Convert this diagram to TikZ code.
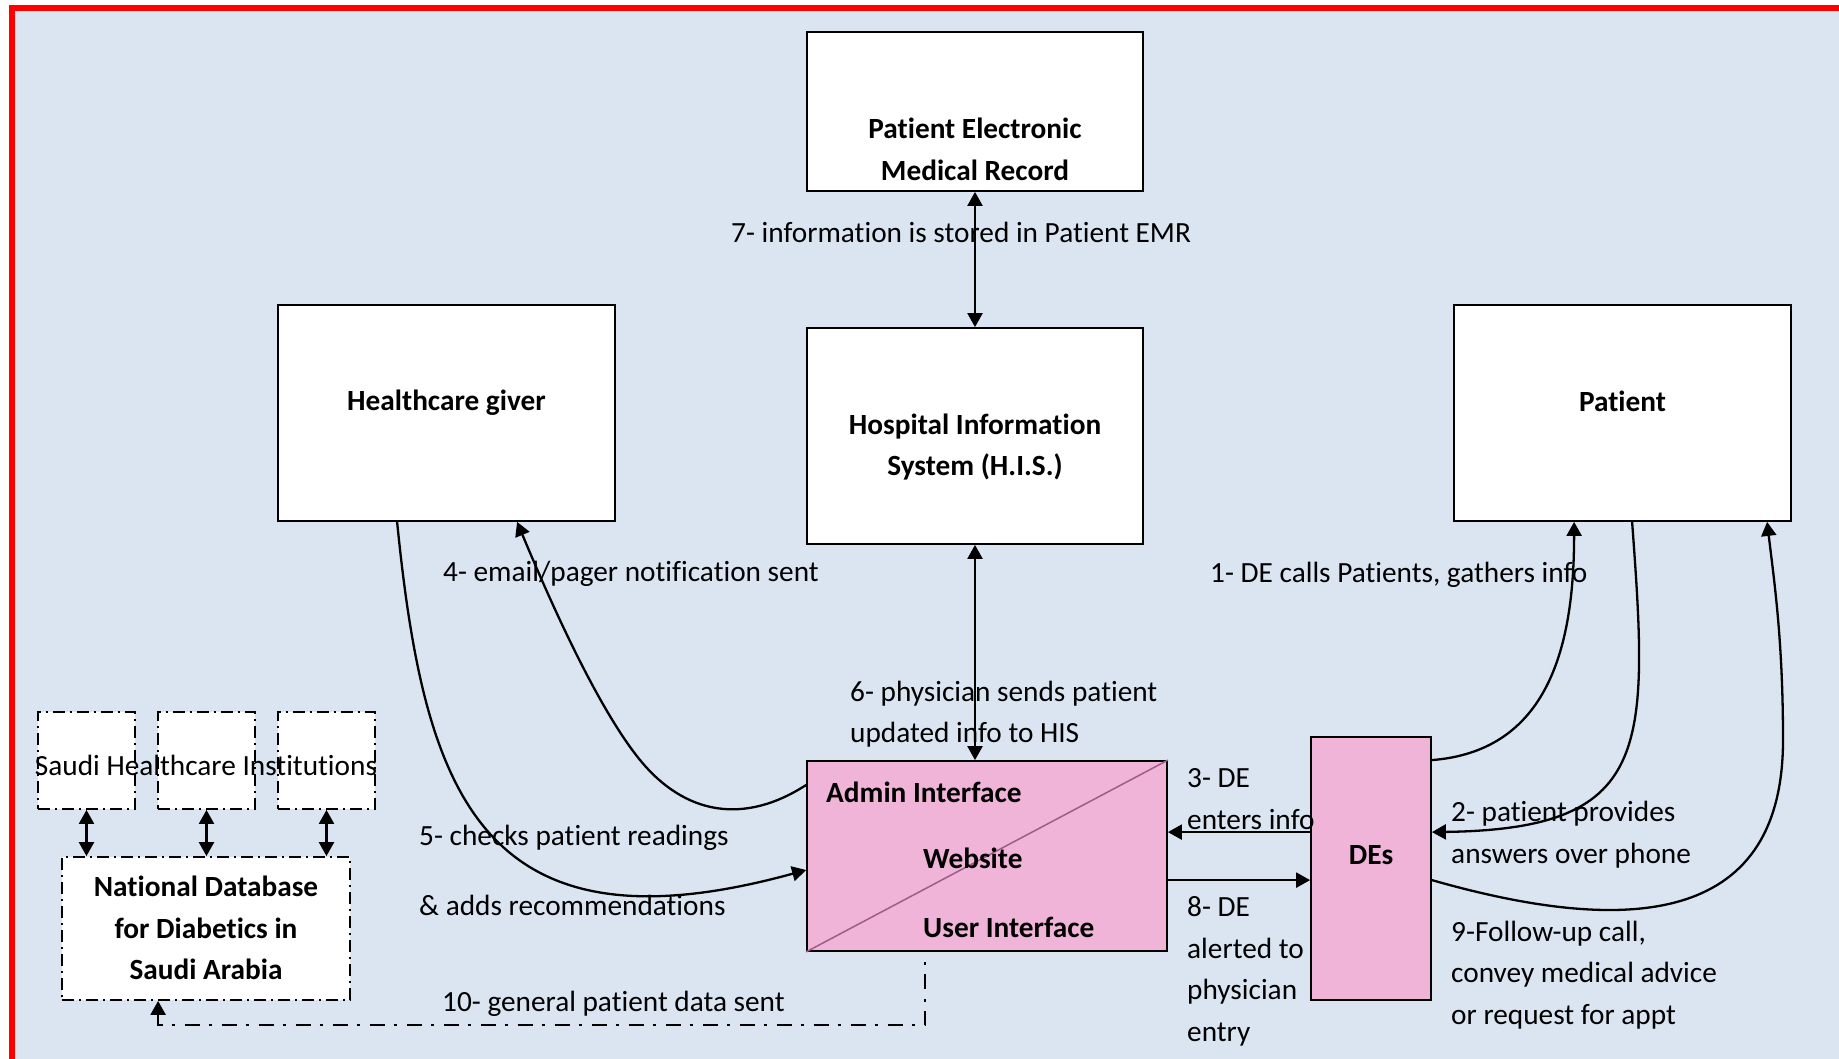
\documentclass[tikz,border=0pt]{standalone}
\usepackage{fontspec}
\setmainfont{Carlito}[Ligatures=NoCommon]
\usetikzlibrary{arrows.meta,calc}
\definecolor{bgblue}{HTML}{DBE5F1}
\definecolor{pinkfill}{HTML}{F0B4D8}
\definecolor{diagline}{HTML}{A05C88}
\newcommand\dfont{\fontsize{29.3}{41.5}\selectfont}
\begin{document}
\begin{tikzpicture}[x=1pt,y=-1pt,
  box/.style={draw=black,line width=1.8pt,fill=white,inner sep=0pt},
  pinkbox/.style={box,fill=pinkfill},
  dbox/.style={box,dash pattern=on 12pt off 5pt on 2pt off 5pt,line width=1.8pt},
  btxt/.style={inner sep=0pt,align=center,font=\dfont\bfseries},
  lab/.style={inner sep=0pt,align=left,anchor=west,font=\dfont},
  tip/.tip={Triangle[length=14pt,width=15pt]},
  conn/.style={line width=2.3pt,-tip},
  both/.style={line width=2.3pt,tip-tip},
  dd/.style={line width=2.4pt,dash pattern=on 15pt off 9pt on 3pt off 10pt}]
\useasboundingbox (0,0) rectangle (1839,1059);
\fill[white] (0,0) rectangle (1839,1059);
\fill[bgblue] (12,8) rectangle (1839,1059);
\draw[red,line width=6pt] (12,1059) -- (12,8) -- (1839,8);

% boxes
\node[box,minimum width=336pt,minimum height=159pt] (emr) at (975,111.5) {};
\node[btxt] (emrT) at (975,149.5) {Patient Electronic\\Medical Record};
\node[box,minimum width=337pt,minimum height=216pt] (hcg) at (446.5,413) {};
\node[btxt] (hcgT) at (446.5,403) {Healthcare giver};
\node[box,minimum width=336pt,minimum height=216pt] (his) at (975,436) {};
\node[btxt] (hisT) at (975,447) {Hospital Information\\System (H.I.S.)};
\node[box,minimum width=337pt,minimum height=216pt] (pat) at (1622.5,413) {};
\node[btxt] (patT) at (1622.5,401) {Patient};
\node[pinkbox,minimum width=360pt,minimum height=190pt] (web) at (987,856) {};
\node[pinkbox,minimum width=120pt,minimum height=263pt] (des) at (1371,868.5) {};
\node[btxt] (desT) at (1371,855) {DEs};
\draw[diagline,line width=1.5pt] (web.south west) -- (web.north east);
\node[btxt,anchor=west] (admin) at (826,792) {Admin Interface};
\node[btxt,anchor=west] (wsite) at (923,858) {Website};
\node[btxt,anchor=west] (uif) at (923,927) {User Interface};

\node[dbox,minimum width=97pt,minimum height=97pt] (s1) at (86.5,760.5) {};
\node[dbox,minimum width=97pt,minimum height=97pt] (s2) at (206.5,760.5) {};
\node[dbox,minimum width=97pt,minimum height=97pt] (s3) at (326.5,760.5) {};
\node[inner sep=0pt,font=\dfont] (sht) at (206,765) {Saudi Healthcare Institutions};
\node[dbox,minimum width=288pt,minimum height=143pt] (db) at (206,928.5) {};
\node[btxt] (dbT) at (206,928) {National Database\\for Diabetics in\\Saudi Arabia};

% straight connectors
\draw[both] (emr.south) -- (his.north);
\draw[both] (his.south) -- (his.south |- web.north);
\draw[both] (s1.south) -- (s1.south |- db.north);
\draw[both] (s2.south) -- (s2.south |- db.north);
\draw[both] (s3.south) -- (s3.south |- db.north);
\draw[conn] ($(des.north west)+(0,96)$) -- ($(web.north east)+(0,72)$);
\draw[conn] ($(web.north east)+(0,120)$) -- ($(des.north west)+(0,144)$);
\coordinate (w10) at ($(web.south west)+(119,73)$);
\draw[dd,tip-] ($(db.south west)+(97,0)$) |- (w10) -- ($(web.south west)+(119,0)$);

% curved connectors
\draw[conn] ($(hcg.south west)+(120,0)$) .. controls +(27,269) and +(-327,90) .. ($(web.west)+(0,14)$);
\coordinate (c4) at (640,760);
\draw[conn] ($(web.west)+(0,-71)$) .. controls +(-62,40) and +(45,55) .. (c4) .. controls +(-40,-49) and +(37,89) .. ($(hcg.south west)+(240,0)$);
\draw[conn] ($(des.north east)+(0,24)$) .. controls +(114,-9) and +(0,129) .. ($(pat.south west)+(121,0)$);
\draw[conn] ($(pat.south west)+(179,0)$) .. controls +(17,229) and +(219,-3) .. ($(des.north east)+(0,96)$);
\coordinate (c9) at (1783,740);
\draw[conn] ($(des.north east)+(0,144)$) .. controls +(189,54) and +(0,190) .. (c9) .. controls +(0,-100) and +(7,59) .. ($(pat.south west)+(314,0)$);

% labels
\node[lab] (l7) at (731,232) {7- information is stored in Patient EMR};
\node[lab] (l6) at (850,714) {6- physician sends patient\\updated info to HIS};
\node[lab] (l1) at (1210,575) {1- DE calls Patients, gathers info};
\node[lab] (l2) at (1451,834.5) {2- patient provides\\answers over phone};
\node[lab] (l9) at (1451,975) {9-Follow-up call,\\convey medical advice\\or request for appt};
\node[lab] (l3) at (1187,799) {3- DE\\enters info};
\node[lab] (l8) at (1187,971.5) {8- DE\\alerted to\\physician\\entry};
\node[lab] (l4) at (443,574) {4- email/pager notification sent};
\node[lab] (l5a) at (419,838) {5- checks patient readings};
\node[lab] (l5b) at (419,905) {\& adds recommendations};
\node[lab] (l10) at (442,1004) {10- general patient data sent};
\end{tikzpicture}
\end{document}
